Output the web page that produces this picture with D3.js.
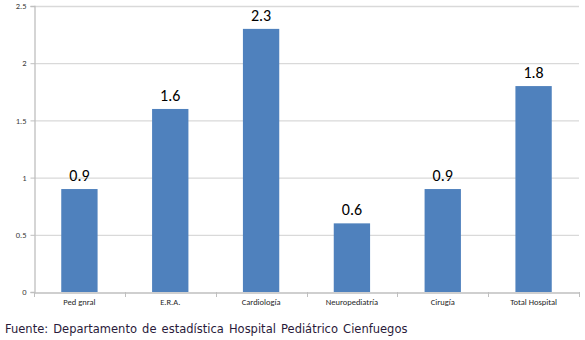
<!DOCTYPE html>
<html><head><meta charset="utf-8">
<script src="https://cdn.jsdelivr.net/npm/d3@7"></script>
<style>body{margin:0;background:#fff}svg{display:block}</style>
</head><body>
<script>
const categories = ["Ped gnral","E.R.A.","Cardiología","Neuropediatría","Cirugía","Total Hospital"];
const values = [0.9,1.6,2.3,0.6,0.9,1.8];
const yTicks = [0,0.5,1,1.5,2,2.5];
const tickLabels = ["0","0.5","1","1.5","2","2.5"];
const footer = "Fuente: Departamento de estadística Hospital Pediátrico Cienfuegos";

(function(){
const W=585,H=340;
const svg=d3.select("body").append("svg").attr("width",W).attr("height",H);
const mL=34,mR=579,mT=6,mB=292;
const x=d3.scaleBand().domain(categories).range([mL,mR]).paddingInner(0.6).paddingOuter(0.3);
const xb=d3.scaleBand().domain(categories).range([mL,mR]);
const y=d3.scaleLinear().domain([0,2.5]).range([mB,mT]);

svg.append("g").selectAll("line").data(yTicks.filter(d=>d>0)).join("line")
  .attr("x1",mL).attr("x2",mR).attr("y1",d=>y(d)+0.5).attr("y2",d=>y(d)+0.5)
  .attr("stroke","#d9d9d9").attr("stroke-width",1.3);

svg.append("g").selectAll("rect").data(values).join("rect")
  .attr("x",(d,i)=>x(categories[i])).attr("width",x.bandwidth())
  .attr("y",d=>y(d)).attr("height",d=>y(0)-y(d)).attr("fill","#4f81bd");

const ya=svg.append("g").attr("transform",`translate(${mL+0.5},0)`)
  .call(d3.axisLeft(y).tickValues(yTicks).tickFormat((d,i)=>tickLabels[i]).tickSize(4).tickPadding(4));
ya.select(".domain").attr("stroke","#bfbfbf").attr("stroke-width",1.3);
ya.selectAll(".tick line").attr("stroke","#bfbfbf");
ya.selectAll("text").attr("font-family","Carlito, 'Liberation Sans', sans-serif").attr("font-size",8.5).attr("fill","#404040");

const xa=svg.append("g").attr("transform",`translate(0,${mB+0.5})`)
  .call(d3.axisBottom(xb).tickSize(0).tickPadding(6));
xa.select(".domain").attr("stroke","#bfbfbf").attr("stroke-width",1.3);
xa.selectAll("text").attr("font-family","Carlito, 'Liberation Sans', sans-serif").attr("font-size",8.5).attr("fill","#262626");
svg.append("g").selectAll("line").data(d3.range(categories.length+1)).join("line")
  .attr("x1",i=>Math.round(mL+i*xb.step())+0.5).attr("x2",i=>Math.round(mL+i*xb.step())+0.5)
  .attr("y1",mB).attr("y2",mB+5).attr("stroke","#bfbfbf");

svg.append("g").selectAll("text").data(values).join("text")
  .attr("x",(d,i)=>x(categories[i])+x.bandwidth()/2).attr("y",d=>y(d)-8)
  .attr("text-anchor","middle").attr("font-family","Carlito, 'Liberation Sans', sans-serif")
  .attr("font-weight",400).attr("font-size",16).attr("fill","#000").text(d=>d);

svg.append("text").attr("x",5).attr("y",333).attr("font-family","'DejaVu Sans', Verdana, sans-serif")
  .attr("font-size",11.5).attr("fill","#2a1a3a").attr("word-spacing",1.5).text(footer);
})();
</script>
</body></html>
